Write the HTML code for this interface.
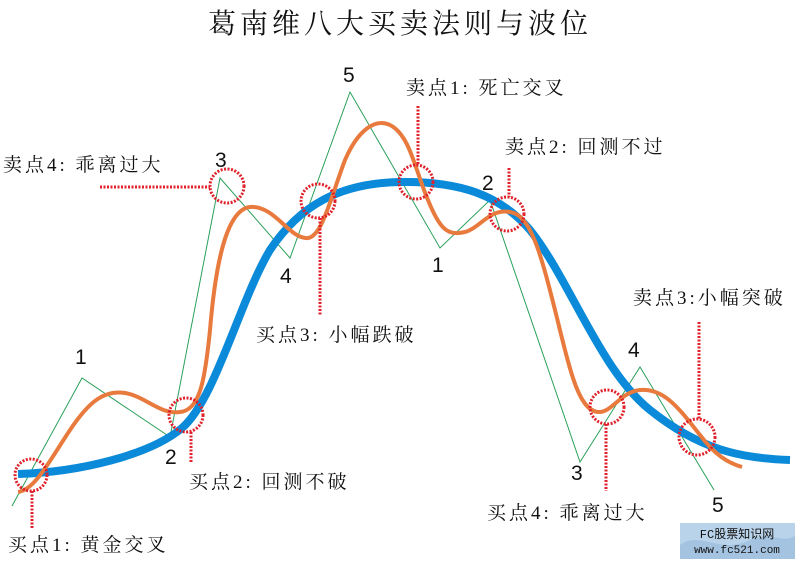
<!DOCTYPE html>
<html><head><meta charset="utf-8"><style>
html,body{margin:0;padding:0;background:#fff}
svg{display:block}
.t{font-family:"Liberation Serif","Noto Serif CJK SC",serif;font-size:19px;fill:#111;letter-spacing:3px}
.n{font-family:"Liberation Sans",sans-serif;font-size:21px;fill:#111}
</style></head><body>
<svg width="800" height="563" viewBox="0 0 800 563" xmlns="http://www.w3.org/2000/svg">
<rect width="800" height="563" fill="#fff"/>
<text x="400" y="33" text-anchor="middle" style="font-family:'Liberation Serif','Noto Serif CJK SC',serif;font-size:28px;letter-spacing:4px;fill:#111">葛南维八大买卖法则与波位</text>
<!-- green zigzag -->
<polyline points="12,506 82,378 170,437 220,178 290,258 350,92 440,248 490,200 580,462 640,367 714,490" fill="none" stroke="#2aa05a" stroke-width="1"/>
<!-- blue curve -->
<path d="M18,474 C80,472 150,455 182,428 C215,400 240,300 270,250 C300,205 340,183 400,182 C460,181 500,195 530,230 C570,280 600,370 650,410 C700,450 740,458 790,460" fill="none" stroke="#0a8ad8" stroke-width="8"/>
<!-- orange curve -->
<path d="M18,492 C35,490 50,460 70,430 C90,400 105,390 125,393 C145,396 160,415 180,412 C200,410 205,380 210,330 C215,270 225,210 250,207 C275,205 290,240 308,238 C322,236 330,200 345,160 C358,130 375,118 390,125 C410,135 415,170 428,200 C440,230 448,236 465,232 C480,228 490,208 510,212 C530,215 540,250 555,310 C570,370 578,410 598,412 C612,413 620,392 640,390 C665,388 680,410 700,435 C715,455 728,463 742,467" fill="none" stroke="#e87a3e" stroke-width="4"/>
<!-- circles and dotted lines -->
<g fill="none" stroke="#e0202a" stroke-width="3" stroke-dasharray="2,1.5">
<circle cx="31" cy="475" r="16"/>
<line x1="32" y1="491" x2="32" y2="528"/>
<circle cx="186" cy="415" r="17"/>
<line x1="191" y1="432" x2="191" y2="463"/>
<circle cx="227" cy="186" r="17"/>
<line x1="100" y1="187" x2="210" y2="187"/>
<circle cx="318" cy="201" r="17"/>
<line x1="320" y1="218" x2="320" y2="316"/>
<circle cx="416" cy="182" r="17"/>
<line x1="418" y1="106" x2="418" y2="165"/>
<circle cx="507" cy="214" r="17"/>
<line x1="509" y1="168" x2="509" y2="197"/>
<circle cx="607" cy="407" r="17"/>
<line x1="606" y1="424" x2="606" y2="491"/>
<circle cx="697" cy="437" r="18"/>
<line x1="699" y1="322" x2="699" y2="420"/>
</g>
<!-- wave numbers -->
<text class="n" x="75" y="364">1</text>
<text class="n" x="165" y="464">2</text>
<text class="n" x="215" y="167">3</text>
<text class="n" x="280" y="283">4</text>
<text class="n" x="343" y="82">5</text>
<text class="n" x="432" y="272">1</text>
<text class="n" x="482" y="190">2</text>
<text class="n" x="571" y="480">3</text>
<text class="n" x="628" y="357">4</text>
<text class="n" x="712" y="512">5</text>
<!-- labels -->
<text class="t" x="8" y="551">买点1: 黄金交叉</text>
<text class="t" x="189" y="488">买点2: 回测不破</text>
<text class="t" x="3" y="171">卖点4: 乖离过大</text>
<text class="t" x="256" y="341">买点3: 小幅跌破</text>
<text class="t" x="406" y="94">卖点1: 死亡交叉</text>
<text class="t" x="505" y="153">卖点2: 回测不过</text>
<text class="t" x="633" y="304">卖点3:小幅突破</text>
<text class="t" x="487" y="519">买点4: 乖离过大</text>
<!-- watermark -->
<rect x="680" y="523" width="115" height="36" fill="#b9d4ea"/>
<path d="M680,545 C700,530 720,555 750,540 C770,530 785,545 795,535 L795,559 L680,559Z" fill="#a4c3e0"/>
<text x="737" y="538" text-anchor="middle" style="font-family:'Liberation Mono','Noto Sans CJK SC',monospace;font-size:12px;fill:#111">FC股票知识网</text>
<text x="737" y="553" text-anchor="middle" style="font-family:'Liberation Mono',monospace;font-size:11px;fill:#111">www.fc521.com</text>
</svg>
</body></html>
